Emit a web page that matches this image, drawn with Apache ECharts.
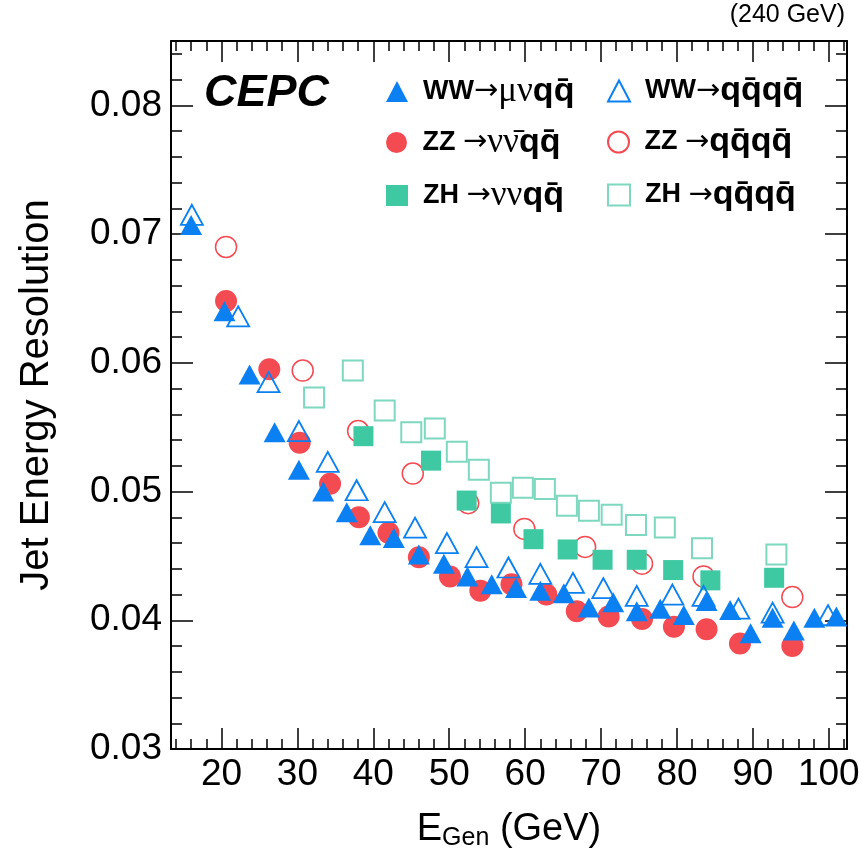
<!DOCTYPE html>
<html><head><meta charset="utf-8">
<script src="https://cdn.jsdelivr.net/npm/echarts@6/dist/echarts.min.js"></script>
<style>html,body{margin:0;padding:0;background:#fff}#c{width:864px;height:857px}</style>
</head><body><div id="c"></div>
<script>
// ---- data (E_Gen in GeV, jet energy resolution) ----
const wwMuNuQQ = [[16.0,0.0707],[20.4,0.0640],[23.7,0.0591],[27.0,0.0546],[30.2,0.0517],[33.4,0.0500],[36.5,0.0484],[39.6,0.0466],[42.7,0.0464],[46.0,0.0451],[49.3,0.0444],[52.4,0.0434],[55.6,0.0428],[58.8,0.0425],[62.0,0.0423],[65.1,0.0421],[68.4,0.0410],[71.6,0.0414],[74.7,0.0407],[77.8,0.0409],[80.9,0.0404],[83.9,0.0415],[87.0,0.0408],[89.7,0.0390],[92.6,0.0402],[95.4,0.0392],[98.1,0.0402],[101.0,0.0403]];
const wwQQQQ = [[16.1,0.0715],[22.2,0.0636],[26.2,0.0585],[30.2,0.0547],[34.0,0.0523],[37.8,0.0501],[41.5,0.0484],[45.5,0.0472],[49.7,0.0460],[53.6,0.0449],[57.8,0.0441],[62.0,0.0436],[66.3,0.0429],[70.3,0.0425],[74.7,0.0419],[79.4,0.0420],[83.5,0.0419],[88.1,0.0409],[92.6,0.0406],[99.9,0.0404]];
const zzNuNuQQ = [[20.6,0.0648],[26.3,0.0595],[30.3,0.0538],[34.3,0.0506],[38.1,0.0480],[42.0,0.0468],[46.0,0.0449],[50.1,0.0434],[54.1,0.0423],[58.2,0.0428],[62.8,0.0420],[66.8,0.0407],[71.0,0.0403],[75.4,0.0401],[79.6,0.0395],[83.9,0.0393],[88.3,0.0382],[95.2,0.0380]];
const zzQQQQ = [[20.6,0.0690],[30.7,0.0594],[38.0,0.0547],[45.2,0.0514],[52.5,0.0491],[59.9,0.0471],[67.9,0.0457],[75.4,0.0444],[83.5,0.0434],[95.2,0.0418]];
const zhNuNuQQ = [[38.7,0.0543],[47.6,0.0524],[52.3,0.0493],[56.8,0.0483],[61.1,0.0463],[65.6,0.0455],[70.2,0.0447],[74.7,0.0447],[79.5,0.0439],[84.4,0.0431],[92.8,0.0433]];
const zhQQQQ = [[32.2,0.0573],[37.3,0.0594],[41.5,0.0563],[45.0,0.0546],[48.1,0.0549],[51.0,0.0531],[53.9,0.0517],[56.8,0.0499],[59.7,0.0503],[62.6,0.0502],[65.5,0.0489],[68.4,0.0485],[71.4,0.0482],[74.6,0.0474],[78.4,0.0472],[83.3,0.0456],[93.1,0.0451]];

const seriesNames = ['WW→μνqq̄','WW→qq̄qq̄','ZZ →νν̄qq̄','ZZ →qq̄qq̄','ZH →ννqq̄','ZH →qq̄qq̄'];
const xMajorTicks = [20,30,40,50,60,70,80,90,100];
const xMinorTicks = [14,16,18,22,24,26,28,32,34,36,38,42,44,46,48,52,54,56,58,62,64,66,68,72,74,76,78,82,84,86,88,92,94,96,98,102];
const yMajorTicks = [0.03,0.04,0.05,0.06,0.07,0.08];
const yMinorTicks = [0.032,0.034,0.036,0.038,0.042,0.044,0.046,0.048,0.052,0.054,0.056,0.058,0.062,0.064,0.066,0.068,0.072,0.074,0.076,0.078,0.082,0.084];

const BLUE='#0a80f2', RED='#f44a52', GREEN='#3ec9a3', GREEN_L='#7dd8bf';
const FONT='Liberation Sans';
const X_MIN=13.35, X_MAX=102.4, Y_MIN=0.03, Y_MAX=0.085;

const chart = echarts.init(document.getElementById('c'), null, {renderer:'canvas'});

function xAx(pos, ticks, len, labels, extra){
  return Object.assign({type:'value', position:pos, min:X_MIN, max:X_MAX,
    axisLine:{show:labels!==null, lineStyle:{color:'#000', width:2}},
    axisTick:{show:true, inside:true, length:len, customValues:ticks, lineStyle:{color:'#000', width:1.5}},
    axisLabel: labels ? {show:true, customValues:ticks, fontSize:37, color:'#000', fontFamily:FONT, margin:7} : {show:false},
    splitLine:{show:false}}, extra||{});
}
function yAx(pos, ticks, len, labels, extra){
  return Object.assign({type:'value', position:pos, min:Y_MIN, max:Y_MAX,
    axisLine:{show:labels!==null, lineStyle:{color:'#000', width:2}},
    axisTick:{show:true, inside:true, length:len, customValues:ticks, lineStyle:{color:'#000', width:1.5}},
    axisLabel: labels ? {show:true, customValues:ticks, fontSize:37, color:'#000', fontFamily:FONT, margin:9, formatter:v=>v.toFixed(2)} : {show:false},
    splitLine:{show:false}}, extra||{});
}

const rich = {
  p:{width:10, lineHeight:36},
  w:{fontSize:27, fontWeight:'bold', fontFamily:FONT, color:'#000', lineHeight:36},
  a:{fontSize:29, fontFamily:'DejaVu Sans', color:'#000', lineHeight:36},
  g:{fontSize:35, fontFamily:'Liberation Serif', color:'#000', lineHeight:36},
  q:{fontSize:34, fontWeight:'bold', fontFamily:FONT, color:'#000', lineHeight:36}
};
const legendFmt = {
  'WW→μνqq̄':'{p|}{w|WW}{a|→}{g|μν}{q|qq̄}',
  'WW→qq̄qq̄':'{p|}{w|WW}{a|→}{q|qq̄qq̄}',
  'ZZ →νν̄qq̄':'{p|}{w|ZZ }{a|→}{g|νν̄}{q|qq̄}',
  'ZZ →qq̄qq̄':'{p|}{w|ZZ }{a|→}{q|qq̄qq̄}',
  'ZH →ννqq̄':'{p|}{w|ZH }{a|→}{g|νν}{q|qq̄}',
  'ZH →qq̄qq̄':'{p|}{w|ZH }{a|→}{q|qq̄qq̄}'
};
const legPos = [[386,74],[607,74],[386,125],[607,125],[386,178],[607,178]];
const legends = seriesNames.map((n,i)=>({data:[n], left:legPos[i][0], top:legPos[i][1], padding:0,
  itemWidth:22, itemHeight:21, selectedMode:false,
  formatter:name=>legendFmt[name], textStyle:{rich:rich}}));

function sc(name, data, symbol, size, fill, stroke, bw, z){
  return {type:'scatter', name:name, data:data, symbol:symbol, symbolSize:size, z:z,
    itemStyle:{color:fill, borderColor:stroke, borderWidth:bw, opacity:1},
    emphasis:{disabled:true}, animation:false};
}

chart.setOption({
  animation:false,
  grid:{left:171, right:17, top:41, bottom:108, containLabel:false},
  xAxis:[
    xAx('bottom', xMajorTicks, 21, true, {name:'{e|E}{sub|Gen}{e| (GeV)}', nameLocation:'middle', nameGap:62,
      nameTextStyle:{rich:{e:{fontSize:38, fontFamily:FONT, color:'#000', lineHeight:40, verticalAlign:'top'}, sub:{fontSize:25, fontFamily:FONT, color:'#000', lineHeight:26, verticalAlign:'bottom'}}, lineHeight:52}}),
    xAx('bottom', xMinorTicks, 10, null),
    xAx('top', xMajorTicks, 21, false),
    xAx('top', xMinorTicks, 10, null)
  ],
  yAxis:[
    yAx('left', yMajorTicks, 22, true, {name:'Jet Energy Resolution', nameLocation:'middle', nameGap:114,
      nameTextStyle:{fontSize:40, fontFamily:FONT, color:'#000'}}),
    yAx('left', yMinorTicks, 11, null),
    yAx('right', yMajorTicks, 22, false),
    yAx('right', yMinorTicks, 11, null)
  ],
  legend:legends,
  graphic:[
    {type:'text', right:19, top:3, style:{text:'(240 GeV)', fontSize:25, fontFamily:FONT, fill:'#000'}},
    {type:'text', left:204, top:71, style:{text:'CEPC', fontSize:45, fontWeight:'bold', fontStyle:'italic', fontFamily:FONT, fill:'#000'}}
  ],
  series:[
    sc(seriesNames[3], zzQQQQ, 'circle', 21, 'rgba(255,255,255,0)', RED, 1.5, 2),
    sc(seriesNames[5], zhQQQQ, 'rect', 20, 'rgba(255,255,255,0)', GREEN_L, 2, 3),
    sc(seriesNames[2], zzNuNuQQ, 'circle', 22, RED, RED, 0, 4),
    sc(seriesNames[4], zhNuNuQQ, 'rect', 20, GREEN, GREEN, 0, 5),
    sc(seriesNames[1], wwQQQQ, 'triangle', [22,20], 'rgba(255,255,255,0)', BLUE, 1.8, 6),
    sc(seriesNames[0], wwMuNuQQ, 'triangle', [22,20], BLUE, BLUE, 0, 7)
  ].sort((a,b)=>seriesNames.indexOf(a.name)-seriesNames.indexOf(b.name))
});
</script>
</body></html>
